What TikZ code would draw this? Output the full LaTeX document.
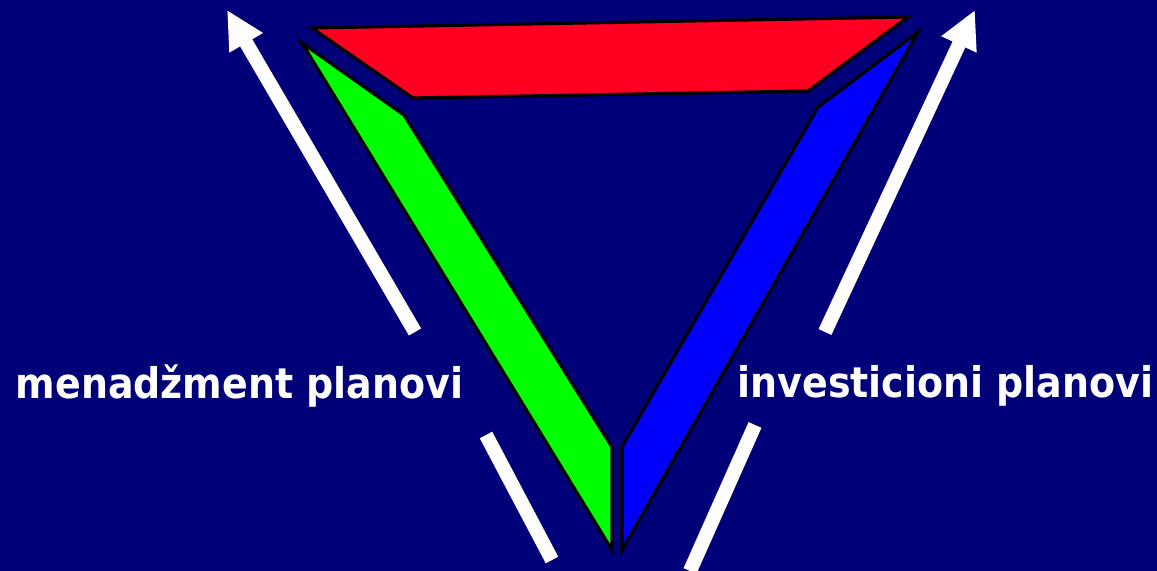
\documentclass[tikz,border=0pt]{standalone}
\usepackage{fontspec}
\setmainfont{DejaVu Sans Condensed}
\usetikzlibrary{arrows.meta}
\definecolor{navybg}{RGB}{0,0,120}
\definecolor{barred}{RGB}{255,0,34}
\definecolor{bargreen}{RGB}{0,255,0}
\definecolor{barblue}{RGB}{0,0,255}
\tikzset{
  bar/.style={draw=black, line width=0.9pt, line join=miter},
  whiteline/.style={white, line width=4pt},
  label/.style={text=white, font=\bfseries\fontsize{12}{14}\selectfont, inner sep=0pt}
}
\begin{document}
\begin{tikzpicture}[x=0.01cm, y=-0.01cm]
\fill[navybg] (0,0) rectangle (1157,571);
\useasboundingbox (0,0) rectangle (1157,571);

% red bar on top
\draw[bar, fill=barred] (312,28) -- (908,17) -- (808,91) -- (413,98) -- cycle;
% green bar on the left
\draw[bar, fill=bargreen] (302,43) -- (404,115) -- (612,447) -- (612,550) -- cycle;
% blue bar on the right
\draw[bar, fill=barblue] (918,32) -- (818,107) -- (622,447) -- (622,550) -- cycle;

% arrows
\coordinate (L1) at (415,332);
\coordinate (L2) at (227,10);
\coordinate (R1) at (825,332);
\coordinate (R2) at (975,10);
\draw[whiteline, -{Triangle[length=3.8mm, width=3.6mm]}] (L1) -- (L2);
\draw[whiteline, -{Triangle[length=3.8mm, width=3.6mm]}] (R1) -- (R2);

% short lines below
\coordinate (B1) at (486,435);
\coordinate (B2) at (552,560);
\coordinate (B3) at (755,425);
\coordinate (B4) at (690,571);
\draw[whiteline] (B1) -- (B2);
\draw[whiteline] (B3) -- (B4);

\node[label, anchor=west] (men) at (15,386) {menadžment planovi};
\node[label, anchor=west] (inv) at (737,386) {investicioni planovi};
\end{tikzpicture}
\end{document}
